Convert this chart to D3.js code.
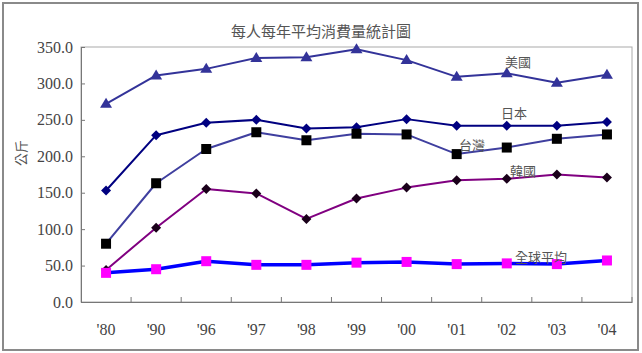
<!DOCTYPE html>
<html><head><meta charset="utf-8">
<script src="https://cdn.jsdelivr.net/npm/d3@7"></script>
<style>html,body{margin:0;padding:0;background:#fff;}svg{display:block;}</style>
</head><body>
<svg id="chart" width="642" height="353"></svg>
<script>
const title = "每人每年平均消費量統計圖";
const yLabel = "公斤";
const categories = ["'80","'90","'96","'97","'98","'99","'00","'01","'02","'03","'04"];
const yTicks = [0,50,100,150,200,250,300,350];
const usa    = [272,311,320,335,336,347,332,309,314,301,312];
const japan  = [153,229,246,250,238,240,251,242,242,242,247];
const taiwan = [80,163,210,233,222,231,230,203,212,224,230];
const korea  = [44,102,155,149,114,142,157,167,169,175,171];
const world  = [40,45,56,51,51,54,55,52,53,52,57];

const series = [
  {name:"美國", values:usa, line:"#333399", width:2, marker:"triangle", fill:"#333399", lx:518, ly:61},
  {name:"日本", values:japan, line:"#000080", width:2, marker:"diamond", fill:"#000080", lx:514, ly:112},
  {name:"台灣", values:taiwan, line:"#3F3F9F", width:2, marker:"square", fill:"#000000", lx:472, ly:144},
  {name:"韓國", values:korea, line:"#800080", width:2, marker:"diamond", fill:"#1a001a", lx:523, ly:170},
  {name:"全球平均", values:world, line:"#0000FF", width:3.5, marker:"square", fill:"#FF00FF", lx:541, ly:256}
];

const svg = d3.select("#chart");
const m = {left:81, right:632, top:47, bottom:302};

// outer frame
svg.append("rect").attr("x",3).attr("y",3).attr("width",635).attr("height",347)
  .attr("fill","#fff").attr("stroke","#8a8a8a").attr("stroke-width",2);

const x = d3.scaleBand().domain(categories).range([m.left,m.right]);
const y = d3.scaleLinear().domain([0,350]).range([m.bottom,m.top]);

// plot area border
svg.append("rect").attr("x",m.left).attr("y",m.top).attr("width",m.right-m.left).attr("height",m.bottom-m.top)
  .attr("fill","none").attr("stroke","#aaa").attr("stroke-width",1);

// y axis
const yAxis = svg.append("g").attr("transform",`translate(${m.left},0)`)
  .call(d3.axisLeft(y).tickValues(yTicks).tickSize(-4).tickPadding(8).tickFormat(d3.format(".1f")));
yAxis.select(".domain").attr("stroke","#777");
yAxis.selectAll(".tick line").attr("stroke","#777");
yAxis.selectAll("text").attr("font-family","'Liberation Serif', serif").attr("font-size",16).attr("fill","#444");

// x axis
const xAxis = svg.append("g").attr("transform",`translate(0,${m.bottom})`)
  .call(d3.axisBottom(x).tickSize(0).tickPadding(22));
xAxis.select(".domain").attr("stroke","#777");
xAxis.selectAll("text").attr("font-family","'Liberation Serif', serif").attr("font-size",16).attr("fill","#444");
// tick marks at band boundaries (inside)
const bounds = categories.slice(1).map(c => x(c)).concat([m.right]);
xAxis.selectAll(".btick").data(bounds).enter().append("line")
  .attr("x1",d=>d).attr("x2",d=>d).attr("y1",0).attr("y2",-5).attr("stroke","#777");

// title
svg.append("text").attr("x",321).attr("y",37).attr("text-anchor","middle")
  .attr("font-family","'Noto Sans CJK TC', sans-serif").attr("font-size",15).attr("fill","#555").text(title);

// y label
svg.append("text").attr("transform","translate(26,153) rotate(-90)").attr("text-anchor","middle")
  .attr("font-family","'Noto Sans CJK TC', sans-serif").attr("font-size",13).attr("fill","#555").text(yLabel);

const cx = c => x(c) + x.bandwidth()/2;
const line = d3.line().x((d,i)=>cx(categories[i])).y(d=>y(d));

series.forEach(s => {
  svg.append("path").datum(s.values).attr("d",line).attr("fill","none")
    .attr("stroke",s.line).attr("stroke-width",s.width).attr("stroke-linejoin","round");
});
series.forEach(s => {
  const g = svg.append("g");
  s.values.forEach((v,i) => {
    const px = cx(categories[i]), py = y(v);
    if (s.marker === "triangle") {
      g.append("path").attr("d",`M${px},${py-6}L${px+6},${py+4}L${px-6},${py+4}Z`).attr("fill",s.fill);
    } else if (s.marker === "diamond") {
      g.append("path").attr("d",`M${px},${py-5}L${px+5},${py}L${px},${py+5}L${px-5},${py}Z`).attr("fill",s.fill);
    } else {
      g.append("rect").attr("x",px-5).attr("y",py-5).attr("width",10).attr("height",10).attr("fill",s.fill);
    }
  });
  svg.append("text").attr("x",s.lx).attr("y",s.ly).attr("text-anchor","middle").attr("dominant-baseline","central")
    .attr("font-family","'Noto Sans CJK TC', sans-serif").attr("font-size",13).attr("fill","#555").text(s.name);
});
</script>
</body></html>
